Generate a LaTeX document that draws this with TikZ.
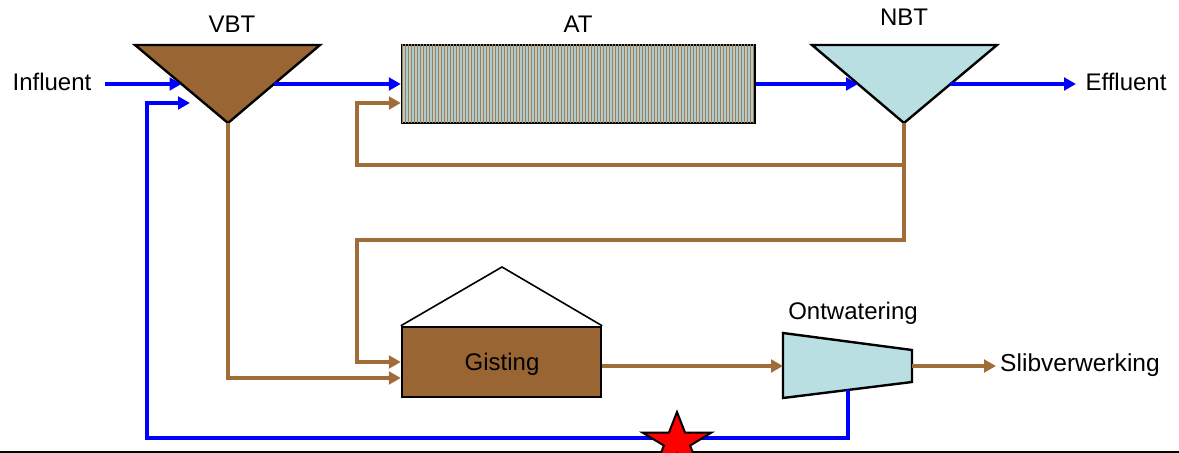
\documentclass[tikz,border=0pt]{standalone}
\usepackage{fontspec}
\setmainfont{Liberation Sans}
\usetikzlibrary{arrows.meta,patterns.meta}
\definecolor{slibbruin}{HTML}{996633}
\definecolor{lijnbruin}{HTML}{A06C38}
\definecolor{lichtblauw}{HTML}{B9DFE2}
\definecolor{waterblauw}{HTML}{0000FF}
\begin{document}
\begin{tikzpicture}[x=0.75pt,y=-0.75pt,
  font=\fontsize{18}{22}\selectfont,
  water/.style={draw=waterblauw,line width=3pt},
  slibleiding/.style={draw=lijnbruin,line width=2.6pt},
  tip/.style={-{Triangle[length=9pt,width=9.5pt]}},
  vorm/.style={draw=black,line width=1.8pt,line join=miter},
  label/.style={inner sep=3pt}]
\useasboundingbox (0,0) rectangle (1179,453);

% bassins
\draw[vorm,fill=slibbruin] (135,45) -- (320,45) -- (228,123) coordinate (vbtbot) -- cycle;
\draw[vorm,fill=lichtblauw] (812,45) -- (997,45) -- (904,123) coordinate (nbtbot) -- cycle;
\node[vorm,minimum width=264.75pt,minimum height=58.5pt,fill=lichtblauw!80!gray,
  postaction={pattern={Lines[angle=90,distance=2.25pt,line width=0.6pt]},pattern color=slibbruin!85!white}] (at) at (578.5,84) {};
\node[vorm,minimum width=149.25pt,minimum height=52.5pt,fill=slibbruin] (gisting) at (501.5,362) {};
\node[label] at (502,364) {Gisting};
\draw[vorm,line width=1.2pt,fill=white] (gisting.north west) -- (502,267) -- (gisting.north east);
\draw[vorm,fill=lichtblauw] (783,333) -- (912,350) -- (912,382) -- (783,398) -- cycle;

% punten op de randen
\coordinate (inflstart) at (105,84);
\coordinate (vbtin) at (181.5,84);
\coordinate (vbtuit) at (274,84);
\coordinate (vbtret) at (190,103);
\coordinate (nbtin) at (858,84);
\coordinate (nbtuit) at (950,84);
\coordinate (efflend) at (1076,84);
\coordinate (split) at (904,165);
\coordinate (ontin) at (783,366);
\coordinate (ontuit) at (912,366);
\coordinate (ontbot) at (848,390);
\coordinate (slibend) at (996,366);

% teksten
\node[label] (vbt) at (232,24) {VBT};
\node[label] (atlabel) at (578,24) {AT};
\node[label] (nbt) at (904,17) {NBT};
\node[label] (influent) at (52,82) {Influent};
\node[label] (effluent) at (1126,82) {Effluent};
\node[label] (ontwatering) at (853,313) {Ontwatering};
\node[label,font=\fontsize{18.4}{22}\selectfont] (slibverw) at (1080,365) {Slibverwerking};

% water
\draw[water,tip] (inflstart) -- (vbtin);
\draw[water,tip] (vbtuit) -- (at.west);
\draw[water,tip] (at.east) -- (nbtin);
\draw[water,tip] (nbtuit) -- (efflend);
\draw[water,tip] (ontbot) |- (147,438) |- (vbtret);

% slib
\draw[slibleiding] (nbtbot) -- (split);
\draw[slibleiding,tip] (split) -| (357,103) -- ([yshift=-14.25pt]at.west);
\draw[slibleiding,tip] (split) |- (357,240) |- (gisting.west);
\draw[slibleiding,tip] (vbtbot) |- ([yshift=-12pt]gisting.west);
\draw[slibleiding,tip] (gisting.east |- ontin) -- (ontin);
\draw[slibleiding,tip] (ontuit) -- (slibend);

\draw[black,line width=1.5pt] (0,452) -- (1179,452);
\begin{scope}[shift={(677,442)},xscale=1.2]
  \draw[vorm,line width=1.5pt,fill=red] (-90:30) \foreach \a in {0,...,4}{ -- (-54+\a*72:11.5) -- (-18+\a*72:30)} -- cycle;
\end{scope}
\end{tikzpicture}
\end{document}
